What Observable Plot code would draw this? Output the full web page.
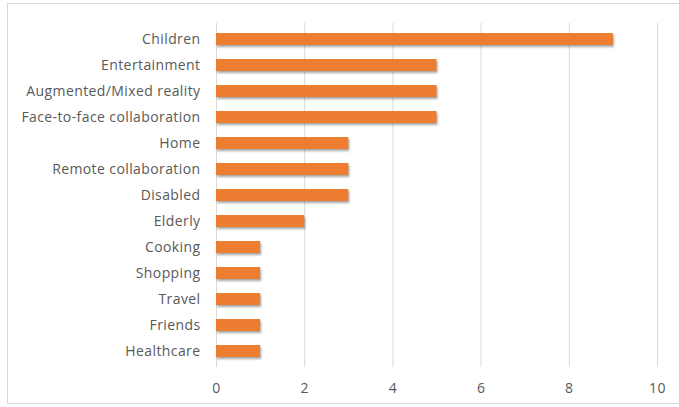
<!DOCTYPE html>
<html>
<head>
<meta charset="utf-8">
<script src="https://cdn.jsdelivr.net/npm/d3@7"></script>
<script src="https://cdn.jsdelivr.net/npm/@observablehq/plot@0.6"></script>
<style>
  html, body { margin: 0; padding: 0; background: #fff; }
  #wrap { position: relative; width: 679px; height: 407px; overflow: hidden; }
  #border { position: absolute; left: 7px; top: 3px; width: 680px; height: 401px; border: 1px solid #d9d9d9; box-sizing: border-box; pointer-events: none; }
  svg g[aria-label="bar"] rect { filter: drop-shadow(1px 2px 1.2px rgba(0,0,0,0.35)); }
  svg text { letter-spacing: 0.4px; }
</style>
</head>
<body>
<div id="wrap"><div id="border"></div></div>
<script>
const categories = ["Children", "Entertainment", "Augmented/Mixed reality", "Face-to-face collaboration", "Home", "Remote collaboration", "Disabled", "Elderly", "Cooking", "Shopping", "Travel", "Friends", "Healthcare"];
const values = [9, 5, 5, 5, 3, 3, 3, 2, 1, 1, 1, 1, 1];
const xTicks = [0, 2, 4, 6, 8, 10];

const data = categories.map((c, i) => ({category: c, value: values[i]}));

const chart = Plot.plot({
  width: 679,
  height: 407,
  marginLeft: 216,
  marginRight: 22,
  marginTop: 23,
  marginBottom: 40,
  style: { fontFamily: "'Open Sans', sans-serif", fontSize: "14px", color: "#595959", background: "transparent" },
  x: { domain: [0, 10], ticks: xTicks, tickSize: 0, tickPadding: 16, label: null },
  y: { domain: categories, paddingInner: 0.55, paddingOuter: 0.275, tickSize: 0, tickPadding: 16, label: null },
  marks: [
    Plot.gridX(xTicks, { stroke: "#d9d9d9", strokeOpacity: 1, strokeWidth: 1 }),
    Plot.barX(data, { x: "value", y: "category", fill: "#ED7D31" })
  ]
});
document.getElementById("wrap").prepend(chart);
</script>
</body>
</html>
